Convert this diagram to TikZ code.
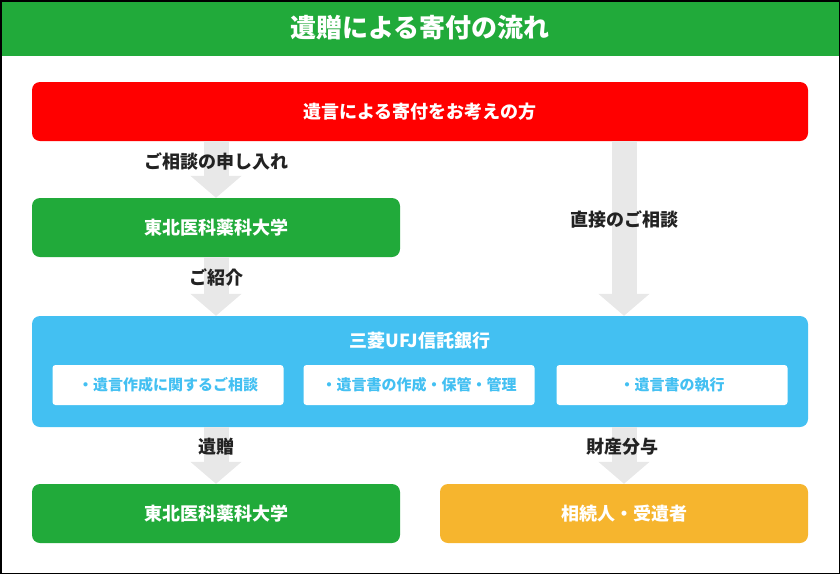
\documentclass[tikz,border=0pt]{standalone}
\usepackage{fontspec}
\setmainfont{Noto Sans CJK JP}
\usetikzlibrary{arrows.meta}
\definecolor{hdgreen}{HTML}{21AA3A}
\definecolor{boxred}{HTML}{FF0000}
\definecolor{boxblue}{HTML}{43C0F2}
\definecolor{boxorange}{HTML}{F6B52E}
\definecolor{flowgray}{HTML}{E8E8E8}
\definecolor{labeltext}{HTML}{222222}
\tikzset{
  flowbox/.style={rounded corners=8pt,minimum height=59pt,text=white,
    font=\bfseries\fontsize{18}{21}\selectfont,inner sep=0pt},
  subbox/.style={fill=white,rounded corners=3pt,minimum width=231pt,minimum height=40pt,
    text=boxblue,font=\bfseries\fontsize{15}{18}\selectfont,inner sep=0pt},
  flowarrow/.style={draw=flowgray,line width=25pt,
    -{Triangle[width=50pt,length=22pt]}},
  flowlabel/.style={text=labeltext,font=\bfseries\fontsize{18}{21}\selectfont}
}
\begin{document}
\begin{tikzpicture}[x=1pt,y=-1pt]
  \useasboundingbox (0,0) rectangle (840,574);
  % header
  \fill[hdgreen] (0,0) rectangle (840,56);
  \node (title) at (420,28) [text=white,font=\bfseries\fontsize{26}{29}\selectfont] {遺贈による寄付の流れ};

  \node (donor) at (420,111.5) [flowbox,fill=boxred,minimum width=776pt] {遺言による寄付をお考えの方};
  \node (univ) at (216,227.5) [flowbox,fill=hdgreen,minimum width=368pt] {東北医科薬科大学};
  \node (bank) at (420,371.5) [flowbox,fill=boxblue,minimum width=776pt,minimum height=111pt] {};
  \node (bankname) at (420,341) [text=white,font=\bfseries\fontsize{18}{21}\selectfont] {三菱UFJ信託銀行};
  \node (svc1) at (168,385) [subbox] {・遺言作成に関するご相談};
  \node (svc2) at (419,385) [subbox] {・遺言書の作成・保管・管理};
  \node (svc3) at (672,385) [subbox] {・遺言書の執行};
  \node (univb) at (216,513.5) [flowbox,fill=hdgreen,minimum width=368pt] {東北医科薬科大学};
  \node (heir) at (624,513.5) [flowbox,fill=boxorange,minimum width=368pt] {相続人・受遺者};

  % arrows
  \draw[flowarrow] (donor.south -| univ.north) -- (univ.north);
  \draw[flowarrow] (univ.south) -- (bank.north -| univ.north);
  \draw[flowarrow] (donor.south -| heir.north) -- (bank.north -| heir.north);
  \draw[flowarrow] (bank.south -| univb.north) -- (univb.north);
  \draw[flowarrow] (bank.south -| heir.north) -- (heir.north);

  % labels
  \node (l1) at (216,161) [flowlabel] {ご相談の申し入れ};
  \node (l2) at (216,277) [flowlabel] {ご紹介};
  \node (l3) at (624,219) [flowlabel] {直接のご相談};
  \node (l4) at (216,447) [flowlabel] {遺贈};
  \node (l5) at (622,447) [flowlabel] {財産分与};

  \draw[line width=1.5pt] (0.75,0.75) rectangle (839.25,573.25);
\end{tikzpicture}
\end{document}
